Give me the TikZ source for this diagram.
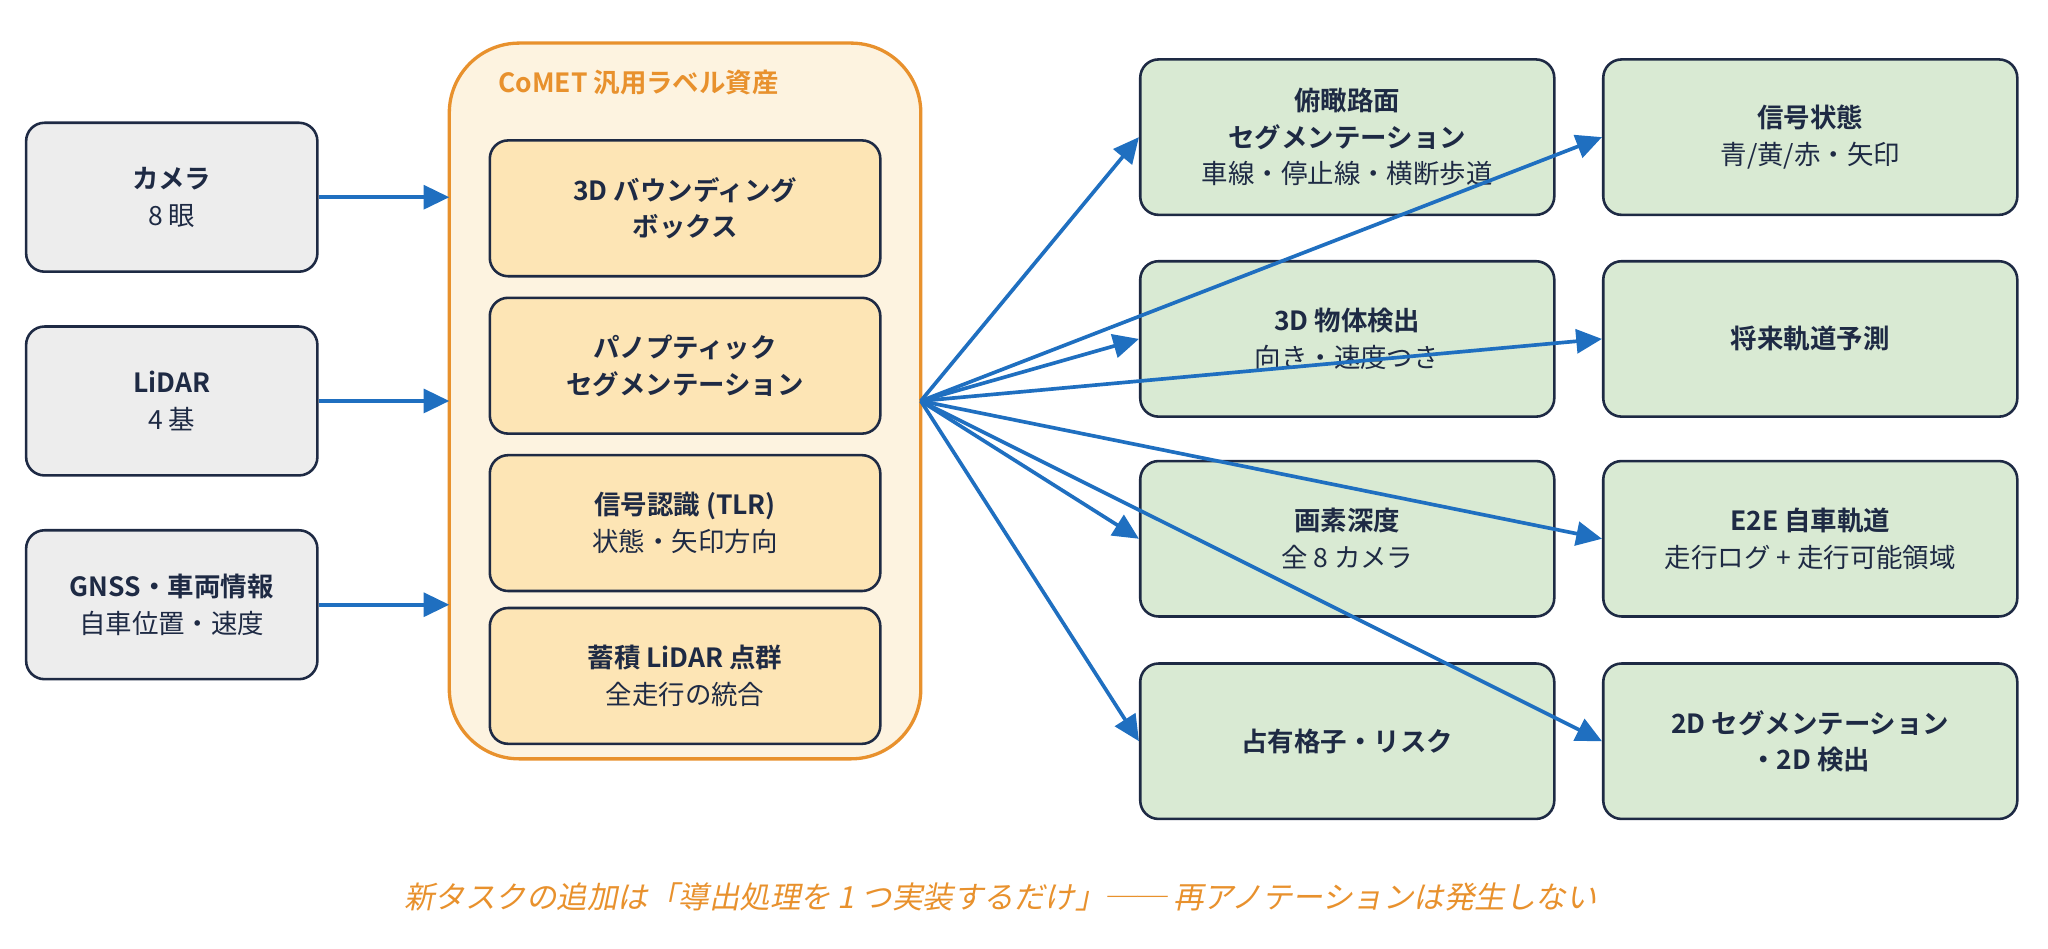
\documentclass[tikz,border=0pt]{standalone}
\usepackage{fontspec}
\setmainfont{Noto Sans CJK JP}[BoldFont={* Bold}]
\newfontfamily\capfont{Noto Sans CJK JP}[FakeSlant=0.2]
\usetikzlibrary{arrows.meta}
\definecolor{navy}{HTML}{1E2A44}
\definecolor{arrowblue}{HTML}{1F6FC0}
\definecolor{greyfill}{HTML}{EDEDED}
\definecolor{creamfill}{HTML}{FDF3E0}
\definecolor{orangeline}{HTML}{E8912D}
\definecolor{sandfill}{HTML}{FDE5B5}
\definecolor{greenfill}{HTML}{D9EAD3}
\tikzset{
	box/.style = {draw = navy, line width = 0.7pt, rounded corners = 5pt, align = center,
		font = \fontsize{7.2pt}{10pt}\selectfont, text = navy, inner sep = 0pt},
	src/.style = {box, fill = greyfill, minimum width = 223*0.0125cm, minimum height = 114*0.0125cm},
	asset/.style = {box, fill = sandfill, minimum width = 299*0.0125cm, minimum height = 104*0.0125cm},
	task/.style = {box, fill = greenfill, minimum width = 317*0.0125cm, minimum height = 119*0.0125cm},
	flow/.style = {draw = arrowblue, line width = 1pt, -{Triangle[length = 7pt, width = 6.5pt]}}
}
\begin{document}
\begin{tikzpicture}[x = 0.0125cm, y = -0.0125cm]
	\useasboundingbox (0,0) rectangle (1568,726);

	% label assets
	\draw[draw = orangeline, fill = creamfill, line width = 0.9pt, rounded corners = 19pt]
		(344,33) rectangle (705,581);
	\node[anchor = west, inner sep = 0pt, text = orangeline, font = \fontsize{7.2pt}{8pt}\selectfont\bfseries] (title) at (381,63) {CoMET 汎用ラベル資産};
	\coordinate (hub) at (705,307);
	\coordinate (inA) at (344,151);
	\coordinate (inB) at (344,307);
	\coordinate (inC) at (344,463);

	\node[asset] (bbox) at (524.5,159.5) {\textbf{3D バウンディング}\\\textbf{ボックス}};
	\node[asset] (pano) at (524.5,280) {\textbf{パノプティック}\\\textbf{セグメンテーション}};
	\node[asset] (tlr) at (524.5,400.5) {\textbf{信号認識 (TLR)}\\状態・矢印方向};
	\node[asset] (cloud) at (524.5,517.5) {\textbf{蓄積 LiDAR 点群}\\全走行の統合};

	% sensors
	\node[src] (cam) at (131.5,151) {\textbf{カメラ}\\8 眼};
	\node[src] (lidar) at (131.5,307) {\textbf{LiDAR}\\4 基};
	\node[src] (gnss) at (131.5,463) {\textbf{GNSS・車両情報}\\自車位置・速度};

	% derived tasks
	\node[task] (bev) at (1031.5,105) {\textbf{俯瞰路面}\\\textbf{セグメンテーション}\\車線・停止線・横断歩道};
	\node[task] (det) at (1031.5,259.5) {\textbf{3D 物体検出}\\向き・速度つき};
	\node[task] (depth) at (1031.5,412.5) {\textbf{画素深度}\\全 8 カメラ};
	\node[task] (occ) at (1031.5,567.5) {\textbf{占有格子・リスク}};
	\node[task] (sig) at (1386,105) {\textbf{信号状態}\\青/黄/赤・矢印};
	\node[task] (pred) at (1386,259.5) {\textbf{将来軌道予測}};
	\node[task] (e2e) at (1386,412.5) {\textbf{E2E 自車軌道}\\走行ログ + 走行可能領域};
	\node[task] (seg) at (1386,567.5) {\textbf{2D セグメンテーション}\\\textbf{・2D 検出}};

	\draw[flow] (cam) -- (inA);
	\draw[flow] (lidar) -- (inB);
	\draw[flow] (gnss) -- (inC);

	\draw[flow] (hub) -- (bev.west);
	\draw[flow] (hub) -- (det.west);
	\draw[flow] (hub) -- (depth.west);
	\draw[flow] (hub) -- (occ.west);
	\draw[flow] (hub) -- (sig.west);
	\draw[flow] (hub) -- (pred.west);
	\draw[flow] (hub) -- (e2e.west);
	\draw[flow] (hub) -- (seg.west);

	\node[text = orangeline, font = \capfont\fontsize{8.3pt}{9pt}\selectfont] (note) at (766,687)
		{新タスクの追加は「導出処理を 1 つ実装するだけ」── 再アノテーションは発生しない};
\end{tikzpicture}
\end{document}
